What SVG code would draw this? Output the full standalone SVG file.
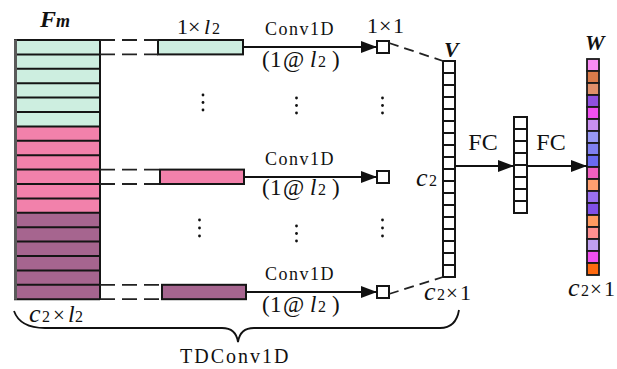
<svg xmlns="http://www.w3.org/2000/svg" width="617" height="369" viewBox="0 0 617 369" font-family="'Liberation Serif', 'Times New Roman', serif">
  <style>
    text { font-family: 'Liberation Serif', 'Times New Roman', serif; fill: #111; }
    .it { font-style: italic; }
    .bi { font-style: italic; font-weight: bold; }
    .sub { font-size: 16px; font-style: normal; }
    .lbl { font-size: 22px; }
    .conv { font-size: 18px; letter-spacing: 1.5px; }
    .cell { stroke: #151515; stroke-width: 2; }
    .grid { stroke: #151515; stroke-width: 2; }
    .wire { stroke: #111; stroke-width: 1.8; fill: none; }
    .dash { stroke: #222; stroke-width: 1.8; fill: none; stroke-dasharray: 15 7; }
    .dash2 { stroke: #222; stroke-width: 1.8; fill: none; stroke-dasharray: 10 6; }
    .dot { fill: #111; }
  </style>
  <defs>
    <marker id="arrow" viewBox="0 0 16 12" refX="16" refY="6" markerWidth="16" markerHeight="12" markerUnits="userSpaceOnUse" orient="auto">
      <path d="M0,0 L16,6 L0,12 Z" fill="#111"/>
    </marker>
  </defs>

  <!-- feature map Fm : 18 rows in three colour groups -->
  <g id="fm">
    <rect x="14" y="40" width="86" height="86.4" fill="#cdeee0"/>
    <rect x="14" y="126.4" width="86" height="86.4" fill="#f281ab"/>
    <rect x="14" y="212.8" width="86" height="86.4" fill="#a6658f"/>
    <g class="grid">
      <line x1="14" y1="40" x2="100" y2="40"/>
      <line x1="14" y1="54.4" x2="100" y2="54.4"/>
      <line x1="14" y1="68.8" x2="100" y2="68.8"/>
      <line x1="14" y1="83.2" x2="100" y2="83.2"/>
      <line x1="14" y1="97.6" x2="100" y2="97.6"/>
      <line x1="14" y1="112" x2="100" y2="112"/>
      <line x1="14" y1="126.4" x2="100" y2="126.4"/>
      <line x1="14" y1="140.8" x2="100" y2="140.8"/>
      <line x1="14" y1="155.2" x2="100" y2="155.2"/>
      <line x1="14" y1="169.6" x2="100" y2="169.6"/>
      <line x1="14" y1="184" x2="100" y2="184"/>
      <line x1="14" y1="198.4" x2="100" y2="198.4"/>
      <line x1="14" y1="212.8" x2="100" y2="212.8"/>
      <line x1="14" y1="227.2" x2="100" y2="227.2"/>
      <line x1="14" y1="241.6" x2="100" y2="241.6"/>
      <line x1="14" y1="256" x2="100" y2="256"/>
      <line x1="14" y1="270.4" x2="100" y2="270.4"/>
      <line x1="14" y1="284.8" x2="100" y2="284.8"/>
      <line x1="14" y1="299.2" x2="100" y2="299.2"/>
      <line x1="100" y1="40" x2="100" y2="299.2"/>
    </g>
    <line x1="15.5" y1="39.5" x2="15.5" y2="299.7" stroke="#5a5a5a" stroke-width="3"/>
    <text x="40" y="27" class="bi" font-size="24">F<tspan font-size="18">m</tspan></text>
    <text y="322"><tspan x="29" class="it" font-size="26">c</tspan><tspan x="42" class="sub">2</tspan><tspan x="53" font-size="21">×</tspan><tspan x="68" class="it" font-size="24">l</tspan><tspan x="75" class="sub">2</tspan></text>
  </g>

  <!-- one row per branch -->
  <g id="row1">
    <rect x="158" y="40" width="85" height="14.4" fill="#cdeee0" class="cell"/>
    <text y="34" font-size="22"><tspan x="177">1</tspan><tspan x="188">×</tspan><tspan x="204" class="it">l</tspan><tspan x="212" class="sub">2</tspan></text>
  </g>
  <g id="row2">
    <rect x="160" y="169.6" width="84" height="14.4" fill="#f281ab" class="cell"/>
  </g>
  <g id="row3">
    <rect x="162" y="284.8" width="84" height="14.4" fill="#a6658f" class="cell"/>
  </g>

  <!-- 1x1 outputs -->
  <g id="out1">
    <rect x="377" y="41" width="12" height="12" fill="#fff" class="cell"/>
    <text y="33" font-size="22"><tspan x="367">1</tspan><tspan x="379">×</tspan><tspan x="393">1</tspan></text>
  </g>
  <g id="out2">
    <rect x="377" y="171" width="12" height="12" fill="#fff" class="cell"/>
  </g>
  <g id="out3">
    <rect x="377" y="286" width="12" height="12" fill="#fff" class="cell"/>
  </g>

  <!-- vector V -->
  <g id="v">
    <rect x="443" y="61" width="12" height="216" fill="#fff" class="cell"/>
    <g class="grid">
      <line x1="443" y1="73" x2="455" y2="73"/>
      <line x1="443" y1="85" x2="455" y2="85"/>
      <line x1="443" y1="97" x2="455" y2="97"/>
      <line x1="443" y1="109" x2="455" y2="109"/>
      <line x1="443" y1="121" x2="455" y2="121"/>
      <line x1="443" y1="133" x2="455" y2="133"/>
      <line x1="443" y1="145" x2="455" y2="145"/>
      <line x1="443" y1="157" x2="455" y2="157"/>
      <line x1="443" y1="169" x2="455" y2="169"/>
      <line x1="443" y1="181" x2="455" y2="181"/>
      <line x1="443" y1="193" x2="455" y2="193"/>
      <line x1="443" y1="205" x2="455" y2="205"/>
      <line x1="443" y1="217" x2="455" y2="217"/>
      <line x1="443" y1="229" x2="455" y2="229"/>
      <line x1="443" y1="241" x2="455" y2="241"/>
      <line x1="443" y1="253" x2="455" y2="253"/>
      <line x1="443" y1="265" x2="455" y2="265"/>
    </g>
    <text x="444" y="57" class="bi lbl">V</text>
    <text y="186"><tspan x="416" class="it" font-size="26">c</tspan><tspan x="429" class="sub">2</tspan></text>
    <text y="300"><tspan x="424" class="it" font-size="26">c</tspan><tspan x="437" class="sub">2</tspan><tspan x="446" font-size="21">×</tspan><tspan x="460" font-size="22">1</tspan></text>
  </g>

  <!-- hidden FC layer -->
  <g id="fc">
    <rect x="514" y="117" width="13" height="96" fill="#fff" class="cell"/>
    <g class="grid">
      <line x1="514" y1="129" x2="527" y2="129"/>
      <line x1="514" y1="141" x2="527" y2="141"/>
      <line x1="514" y1="153" x2="527" y2="153"/>
      <line x1="514" y1="165" x2="527" y2="165"/>
      <line x1="514" y1="177" x2="527" y2="177"/>
      <line x1="514" y1="189" x2="527" y2="189"/>
      <line x1="514" y1="201" x2="527" y2="201"/>
    </g>
  </g>

  <!-- weight vector W -->
  <g id="w">
    <g stroke="#1a1a1a" stroke-width="1.8">
      <rect x="587" y="59" width="12" height="12" fill="#f98cf4"/>
      <rect x="587" y="71" width="12" height="12" fill="#d97b4a"/>
      <rect x="587" y="83" width="12" height="12" fill="#e0906a"/>
      <rect x="587" y="95" width="12" height="12" fill="#9050e0"/>
      <rect x="587" y="107" width="12" height="12" fill="#f050f0"/>
      <rect x="587" y="119" width="12" height="12" fill="#c890f0"/>
      <rect x="587" y="131" width="12" height="12" fill="#9898f4"/>
      <rect x="587" y="143" width="12" height="12" fill="#8080f0"/>
      <rect x="587" y="155" width="12" height="12" fill="#6a6af0"/>
      <rect x="587" y="167" width="12" height="12" fill="#f060c0"/>
      <rect x="587" y="179" width="12" height="12" fill="#ffa070"/>
      <rect x="587" y="191" width="12" height="12" fill="#9a70f0"/>
      <rect x="587" y="203" width="12" height="12" fill="#8050e8"/>
      <rect x="587" y="215" width="12" height="12" fill="#ff9a60"/>
      <rect x="587" y="227" width="12" height="12" fill="#ff9090"/>
      <rect x="587" y="239" width="12" height="12" fill="#c0a0f0"/>
      <rect x="587" y="251" width="12" height="12" fill="#f050f0"/>
      <rect x="587" y="263" width="12" height="12" fill="#ff6a10"/>
    </g>
    <text x="585" y="50" class="bi lbl">W</text>
    <text y="296"><tspan x="568" class="it" font-size="26">c</tspan><tspan x="581" class="sub">2</tspan><tspan x="590" font-size="21">×</tspan><tspan x="604" font-size="22">1</tspan></text>
  </g>

  <!-- connectors -->
  <g id="connectors">
    <!-- rows picked out of Fm -->
    <path class="dash" d="M100,40 H158 M100,54.4 H158"/>
    <path class="dash" d="M100,169.6 H160 M100,184 H160"/>
    <path class="dash" d="M100,284.8 H162 M100,299.2 H162"/>

    <!-- Conv1D arrows -->
    <line x1="243" y1="47" x2="377" y2="47" class="wire" marker-end="url(#arrow)"/>
    <line x1="244" y1="177" x2="377" y2="177" class="wire" marker-end="url(#arrow)"/>
    <line x1="246" y1="292" x2="377" y2="292" class="wire" marker-end="url(#arrow)"/>

    <!-- outputs gathered into V -->
    <line x1="389" y1="43" x2="443" y2="61" class="dash2"/>
    <line x1="389" y1="294" x2="443" y2="277" class="dash2"/>

    <!-- FC arrows -->
    <line x1="455" y1="166" x2="514" y2="166" class="wire" marker-end="url(#arrow)"/>
    <line x1="527" y1="166" x2="587" y2="166" class="wire" marker-end="url(#arrow)"/>

    <!-- brace under the TDConv1D stage -->
    <path class="wire" d="M14,311 Q20,328 45,328 H222 Q236,328 238,342 Q240,328 254,328 H440 Q456,328 459,310"/>
  </g>

  <!-- layer labels -->
  <g id="labels">
    <text x="265" y="35" class="conv">Conv1D</text>
    <text x="265" y="165" class="conv">Conv1D</text>
    <text x="265" y="280" class="conv">Conv1D</text>

    <text y="67" font-size="23"><tspan x="262">(</tspan><tspan x="270">1</tspan><tspan x="283">@</tspan><tspan x="310" class="it">l</tspan><tspan x="318" class="sub">2</tspan><tspan x="332">)</tspan></text>
    <text y="195" font-size="23"><tspan x="262">(</tspan><tspan x="270">1</tspan><tspan x="283">@</tspan><tspan x="310" class="it">l</tspan><tspan x="318" class="sub">2</tspan><tspan x="332">)</tspan></text>
    <text y="312" font-size="23"><tspan x="262">(</tspan><tspan x="270">1</tspan><tspan x="283">@</tspan><tspan x="310" class="it">l</tspan><tspan x="318" class="sub">2</tspan><tspan x="332">)</tspan></text>

    <text x="483" y="150" font-size="24" text-anchor="middle">FC</text>
    <text x="551" y="150" font-size="24" text-anchor="middle">FC</text>

    <text x="180" y="363" font-size="20" letter-spacing="2">TDConv1D</text>
  </g>

  <!-- ellipses between branches -->
  <g id="ellipses" class="dot">
    <circle cx="203" cy="95" r="1.4"/><circle cx="203" cy="102.5" r="1.4"/><circle cx="203" cy="110" r="1.4"/>
    <circle cx="296.5" cy="98" r="1.4"/><circle cx="296.5" cy="105.5" r="1.4"/><circle cx="296.5" cy="113" r="1.4"/>
    <circle cx="382.5" cy="98" r="1.4"/><circle cx="382.5" cy="105.5" r="1.4"/><circle cx="382.5" cy="113" r="1.4"/>
    <circle cx="199.5" cy="220" r="1.4"/><circle cx="199.5" cy="228" r="1.4"/><circle cx="199.5" cy="236" r="1.4"/>
    <circle cx="296.5" cy="226" r="1.4"/><circle cx="296.5" cy="233.5" r="1.4"/><circle cx="296.5" cy="241" r="1.4"/>
    <circle cx="382.5" cy="220" r="1.4"/><circle cx="382.5" cy="228" r="1.4"/><circle cx="382.5" cy="236" r="1.4"/>
  </g>
</svg>
